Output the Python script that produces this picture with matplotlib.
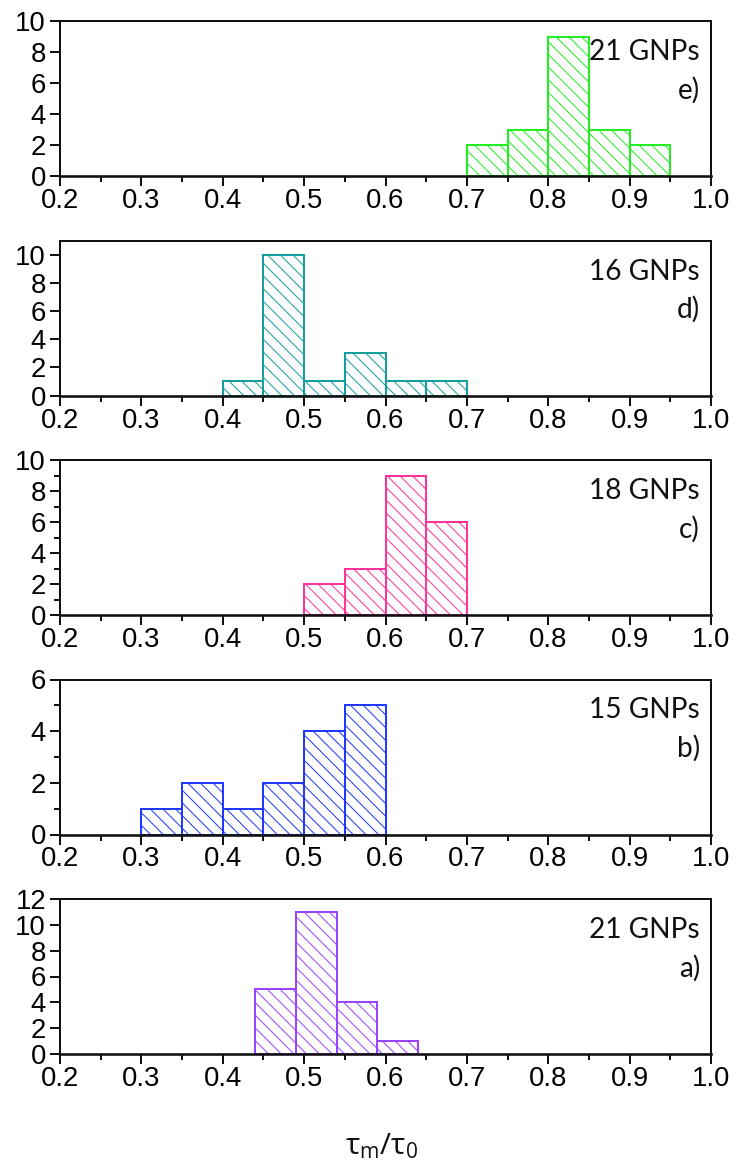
import matplotlib
matplotlib.use("Agg")
import matplotlib.pyplot as plt
from matplotlib.ticker import MultipleLocator

# Histogram data (bin edges and counts) for each panel, top to bottom
edges_e = [0.70, 0.75, 0.80, 0.85, 0.90, 0.95]
counts_e = [2, 3, 9, 3, 2]
edges_d = [0.40, 0.45, 0.50, 0.55, 0.60, 0.65, 0.70]
counts_d = [1, 10, 1, 3, 1, 1]
edges_c = [0.50, 0.55, 0.60, 0.65, 0.70]
counts_c = [2, 3, 9, 6]
edges_b = [0.30, 0.35, 0.40, 0.45, 0.50, 0.55, 0.60]
counts_b = [1, 2, 1, 2, 4, 5]
edges_a = [0.44, 0.49, 0.54, 0.59, 0.64]
counts_a = [5, 11, 4, 1]

labels_n = ["21 GNPs", "16 GNPs", "18 GNPs", "15 GNPs", "21 GNPs"]
labels_p = ["e)", "d)", "c)", "b)", "a)"]
colors = ["#22ee22", "#159e9e", "#ff3399", "#2038ff", "#9a44ff"]
ymax = [10, 11, 10, 6, 12]
ystep = [2, 2, 2, 2, 2]
yminor = [False, False, True, True, False]
xtick_labels = ["0.2", "0.3", "0.4", "0.5", "0.6", "0.7", "0.8", "0.9", "1.0"]

panels = [(edges_e, counts_e), (edges_d, counts_d), (edges_c, counts_c),
          (edges_b, counts_b), (edges_a, counts_a)]

DPI = 76
W, H = 737, 1166
px = 72.0 / DPI  # points per pixel

plt.rcParams["hatch.linewidth"] = 1.0 * px
plt.rcParams["mathtext.fontset"] = "custom"
plt.rcParams["mathtext.rm"] = "Open Sans"
plt.rcParams["mathtext.it"] = "Open Sans"

fig = plt.figure(figsize=(W / DPI, H / DPI), dpi=DPI)

left, right = 60, 711
ax_h = 155
tops = [21, 240.5, 460, 679.5, 899]

tick_font = dict(family="Liberation Sans", size=27.5 * px)

for i, ((edges, counts), col) in enumerate(zip(panels, colors)):
    top = tops[i]
    ax = fig.add_axes([left / W, 1 - (top + ax_h) / H, (right - left) / W, ax_h / H])
    widths = [edges[k + 1] - edges[k] for k in range(len(counts))]
    ax.bar(edges[:-1], counts, width=widths, align="edge", color="white",
           edgecolor=col, linewidth=2.0 * px, hatch="\\\\", zorder=2)
    ax.set_xlim(0.2, 1.0)
    ax.set_ylim(0, ymax[i])
    ax.xaxis.set_minor_locator(MultipleLocator(0.05))
    if yminor[i]:
        ax.yaxis.set_minor_locator(MultipleLocator(1))
    xt = [float(s) for s in xtick_labels]
    ax.set_xticks(xt)
    ax.set_xticklabels(xtick_labels, **tick_font)
    yt = list(range(0, ymax[i] + 1, ystep[i]))
    ax.set_yticks(yt)
    ax.set_yticklabels([str(v) for v in yt], **tick_font)
    for s in ax.spines.values():
        s.set_linewidth(2.0 * px)
        s.set_color("#111111")
    ax.spines["bottom"].set_linewidth(2.6 * px)
    ax.spines["bottom"].set_zorder(3)
    ax.tick_params(which="major", direction="out", length=10 * px, width=2 * px,
                   color="#111111", top=False, right=False)
    ax.tick_params(which="minor", direction="out", length=6 * px, width=2 * px,
                   color="#111111", top=False, right=False)
    ax.tick_params(axis="x", which="major", pad=2 * px)
    ax.tick_params(axis="y", which="major", pad=4 * px)
    ax.text(0.983, 0.80, labels_n[i], transform=ax.transAxes, ha="right",
            va="center", family="Lato", fontsize=28 * px, color="#111111")
    ax.text(0.983, 0.555, labels_p[i], transform=ax.transAxes, ha="right",
            va="center", family="Lato", fontsize=28 * px, color="#111111")

fig.text(382 / W, 1 - 1146 / H, r"$\mathrm{\tau_m/\tau_0}$", ha="center",
         va="center", fontsize=30 * px, color="#111111")

fig.savefig("out.png", dpi=DPI)
